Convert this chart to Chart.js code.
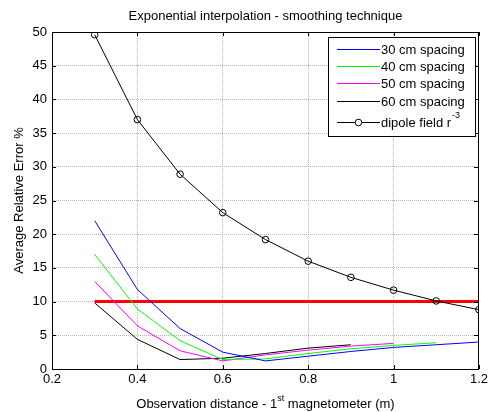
<!DOCTYPE html>
<html><head><meta charset="utf-8">
<script src="https://cdn.jsdelivr.net/npm/chart.js@4/dist/chart.umd.min.js"></script>
<style>html,body{margin:0;padding:0;background:#fff}#wrap{width:491px;height:412px}</style>
</head><body><div id="wrap"><canvas id="c" width="491" height="412"></canvas></div>
<script>
const xs = [0.3,0.4,0.5,0.6,0.7,0.8,0.9,1.0,1.1,1.2];
const s30 = [22.0,11.8,6.0,2.5,1.2,1.9,2.6,3.2,3.6,4.0];
const s40 = [17.0,8.9,4.2,1.4,1.5,2.3,3.0,3.5,3.9];
const s50 = [13.0,6.4,2.7,1.2,2.1,2.8,3.4,3.8];
const s60 = [9.8,4.4,1.4,1.6,2.3,3.1,3.6];
const dipole = [49.6,37.0,28.9,23.2,19.2,16.0,13.6,11.7,10.1,8.8];
const threshold = 10;
const xTicks = [0.2,0.4,0.6,0.8,1.0,1.2];
const yTicks = [0,5,10,15,20,25,30,35,40,45,50];
const labels = ['30 cm spacing','40 cm spacing','50 cm spacing','60 cm spacing','dipole field r'];
const titleText = 'Exponential interpolation - smoothing technique';
const yTitle = 'Average Relative Error %';

const pts = (arr) => arr.map((v,i)=>({x:xs[i],y:v}));
const FONT = '"Liberation Sans", Arial, sans-serif';
const FS = 13;

const deco = {
  id:'deco',
  afterDraw(chart){
    const ctx = chart.ctx, a = chart.chartArea, xs_ = chart.scales.x, ys_ = chart.scales.y;
    ctx.save();
    ctx.strokeStyle='#000'; ctx.lineWidth=1;
    ctx.strokeRect(Math.round(a.left)+0.5, Math.round(a.top)+0.5, Math.round(a.right-a.left)-1, Math.round(a.bottom-a.top));
    // inward ticks
    ctx.beginPath();
    xTicks.forEach(t=>{const p=Math.round(xs_.getPixelForValue(t))+0.5;
      ctx.moveTo(p,a.bottom); ctx.lineTo(p,a.bottom-4); ctx.moveTo(p,a.top); ctx.lineTo(p,a.top+4);});
    yTicks.forEach(t=>{const p=Math.round(ys_.getPixelForValue(t))+0.5;
      ctx.moveTo(a.left,p); ctx.lineTo(a.left+4,p); ctx.moveTo(a.right-1,p); ctx.lineTo(a.right-5,p);});
    ctx.stroke();
    // title
    ctx.fillStyle='#000';
    ctx.font=FS+'px '+FONT; ctx.textAlign='center'; ctx.textBaseline='alphabetic';
    ctx.fillText(titleText,(a.left+a.right)/2,20);
    // y title
    ctx.save(); ctx.translate(23,(a.top+a.bottom)/2); ctx.rotate(-Math.PI/2);
    ctx.fillText(yTitle,0,0); ctx.restore();
    // x title with superscript
    const p1='Observation distance - 1', sup='st', p2=' magnetometer (m)';
    ctx.font=FS+'px '+FONT; const w1=ctx.measureText(p1).width, w3=ctx.measureText(p2).width;
    ctx.font='9px '+FONT; const w2=ctx.measureText(sup).width;
    let x0=(a.left+a.right)/2-(w1+w2+w3)/2, yb=408;
    ctx.textAlign='left'; ctx.textBaseline='alphabetic';
    ctx.font=FS+'px '+FONT; ctx.fillText(p1,x0,yb);
    ctx.font='9px '+FONT; ctx.fillText(sup,x0+w1,yb-7);
    ctx.font=FS+'px '+FONT; ctx.fillText(p2,x0+w1+w2,yb);
    // legend
    const lx=328, ly=37, lw=476-lx, lh=100;
    ctx.fillStyle='#fff'; ctx.fillRect(lx,ly,lw,lh);
    ctx.strokeStyle='#000'; ctx.lineWidth=1; ctx.strokeRect(lx+0.5,ly+0.5,lw-1,lh-1);
    const cols=['#0000ff','#00ff00','#ff00ff','#000000','#000000'];
    const rows=[49,66,83,101,122];
    rows.forEach((ry,i)=>{
      ctx.strokeStyle=cols[i]; ctx.lineWidth=1;
      ctx.beginPath(); ctx.moveTo(337,ry+0.5); ctx.lineTo(380,ry+0.5); ctx.stroke();
      if(i===4){ctx.beginPath(); ctx.arc(358.5,ry+0.5,3.3,0,Math.PI*2); ctx.fillStyle='#fff'; ctx.fill(); ctx.stroke();}
      ctx.fillStyle='#000'; ctx.font=FS+'px '+FONT; ctx.textAlign='left'; ctx.textBaseline='middle';
      ctx.fillText(labels[i],381,ry+1);
      if(i===4){const w=ctx.measureText(labels[i]).width; ctx.font='9px '+FONT; ctx.fillText('-3',381+w+1,ry-6);}
    });
    ctx.restore();
  }
};

new Chart(document.getElementById('c'),{
  type:'line',
  data:{datasets:[
    {data:pts(s30),borderColor:'#0000ff',borderWidth:1,pointRadius:0,tension:0},
    {data:pts(s40),borderColor:'#00ff00',borderWidth:1,pointRadius:0,tension:0},
    {data:pts(s50),borderColor:'#ff00ff',borderWidth:1,pointRadius:0,tension:0},
    {data:pts(s60),borderColor:'#000000',borderWidth:1,pointRadius:0,tension:0},
    {data:pts(dipole),borderColor:'#000000',borderWidth:1,pointRadius:3.3,pointBorderWidth:1,pointBackgroundColor:'rgba(0,0,0,0)',pointBorderColor:'#000',tension:0},
    {data:[{x:xs[0],y:threshold},{x:xs[xs.length-1],y:threshold}],borderColor:'#ff0000',borderWidth:3,pointRadius:0,tension:0}
  ]},
  options:{
    responsive:false, animation:false, devicePixelRatio:1,
    layout:{padding:{top:32,right:8,left:0,bottom:0}},
    plugins:{legend:{display:false},tooltip:{enabled:false}},
    scales:{
      x:{type:'linear',min:0.2,max:1.2,
        afterBuildTicks(s){s.ticks=xTicks.map(v=>({value:v}));},
        afterFit(s){s.height=43;},
        ticks:{color:'#000',font:{family:FONT,size:FS},padding:3,maxRotation:0,
          callback:(v)=>String(Math.round(v*10)/10)},
        grid:{color:'#b4b4b4',lineWidth:1,drawTicks:false},
        border:{display:false,dash:[1,1]}},
      y:{min:0,max:50,
        afterBuildTicks(s){s.ticks=yTicks.map(v=>({value:v}));},
        afterFit(s){s.width=52;},
        ticks:{color:'#000',font:{family:FONT,size:FS},padding:5},
        grid:{color:'#b4b4b4',lineWidth:1,drawTicks:false},
        border:{display:false,dash:[1,1]}}
    }
  },
  plugins:[deco]
});
</script></body></html>
